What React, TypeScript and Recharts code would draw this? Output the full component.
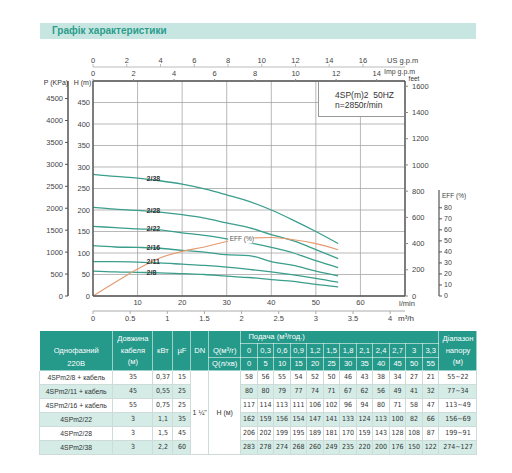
import React from "react";
import { CartesianGrid, Line, LineChart, XAxis, YAxis } from "recharts";

// Flow points of the table / curves
const flowLmin = [0, 5, 10, 15, 20, 25, 30, 35, 40, 45, 50, 55];
const flowM3hLabels = ["0", "0,3", "0,6", "0,9", "1,2", "1,5", "1,8", "2,1", "2,4", "2,7", "3", "3,3"];

// Table rows
const models = [
  "4SPm2/8 + кабель",
  "4SPm2/11 + кабель",
  "4SPm2/16 + кабель",
  "4SPm2/22",
  "4SPm2/28",
  "4SPm2/38",
];
const curveNames = ["2/8", "2/11", "2/16", "2/22", "2/28", "2/38"];
const cableLength = ["35", "45", "55", "3", "3", "3"];
const powerKw = ["0,37", "0,55", "0,75", "1,1", "1,5", "2,2"];
const capacitorUf = ["15", "25", "25", "35", "45", "60"];
const headRange = ["55~22", "77~34", "113~49", "156~69", "199~91", "274~127"];

// Head H (m) at each flow point
const head2_8 = [58, 56, 55, 54, 52, 50, 46, 43, 38, 34, 27, 21];
const head2_11 = [80, 80, 79, 77, 74, 71, 67, 62, 56, 49, 41, 32];
const head2_16 = [117, 114, 113, 111, 106, 102, 96, 94, 80, 71, 58, 47];
const head2_22 = [162, 159, 156, 154, 147, 141, 133, 124, 113, 100, 82, 66];
const head2_28 = [206, 202, 199, 195, 189, 181, 170, 159, 143, 128, 108, 87];
const head2_38 = [283, 278, 274, 268, 260, 249, 235, 220, 200, 176, 150, 122];
const headTable = [head2_8, head2_11, head2_16, head2_22, head2_28, head2_38];

// Efficiency (%)
const efficiency = [0, 12.5, 24.5, 34.5, 40.5, 44.5, 49.5, 52.5, 53, 51, 47.5, 42];

// Axis ticks
const hTicks = [0, 50, 100, 150, 200, 250, 300, 350, 400, 450];
const pTicks = [0, 500, 1000, 1500, 2000, 2500, 3000, 3500, 4000, 4500];
const feetTicks = [0, 200, 400, 600, 800, 1000, 1200, 1400, 1600];
const effTicks = [0, 10, 20, 30, 40, 50, 60, 70, 80];
const lminTicks = [10, 20, 30, 40, 50, 60];
const m3hTicks = [0, 0.5, 1, 1.5, 2, 2.5, 3, 3.5, 4];
const usGpmTicks = [0, 2, 4, 6, 8, 10, 12, 14, 16];
const impGpmTicks = [0, 2, 4, 6, 8, 10, 12, 14];

// Scale ranges (the secondary axes are unit conversions of H and Q)
const H_MAX = 500;
const Q_MAX = 70;
const P_MAX = H_MAX * 9.8;
const FEET_MAX = H_MAX * 3.2808;
const US_GAL = 3.7854;
const IMP_GAL = 4.54609;
const US_MAX = Q_MAX / US_GAL;
const IMP_MAX = Q_MAX / IMP_GAL;
const M3H_MAX = Q_MAX * 0.06;
const EFF_MAX = 195;

const TEAL = "#3a9e8c";
const ORANGE = "#e59a70";
const FONT = "'Liberation Sans', Arial, sans-serif";
const NARROW = "'Liberation Sans Narrow', 'DejaVu Sans Condensed', 'Liberation Sans', Arial, sans-serif";
const HEADER_BG = "#25998a";
const ROW_BG = "#d4ebe6";

const tickStyle = { fontSize: 7.5, fill: "#444" };

const chartData = flowLmin.map((q, i) => {
  const row: Record<string, number> = {
    q,
    qM3h: q * 0.06,
    qUs: q / US_GAL,
    qImp: q / IMP_GAL,
    eff: efficiency[i],
  };
  curveNames.forEach((name, k) => {
    row[name] = headTable[k][i];
  });
  return row;
});

function curveLabelDot(name: string) {
  return (props: any) => {
    const { cx, cy, index } = props;
    if (index !== 2) return <g key={`${name}-${index}`} />;
    return (
      <text
        key={`${name}-${index}`}
        x={cx + 9}
        y={cy}
        dy="0.35em"
        fontSize={7}
        fontWeight="bold"
        fill="#333"
      >
        {name}
      </text>
    );
  };
}

function effLabelDot(props: any) {
  const { cx, cy, index } = props;
  if (index !== 6) return <g key={`eff-${index}`} />;
  return (
    <g key={`eff-${index}`}>
      <rect x={cx + 1.5} y={cy - 7} width={25} height={9} fill="#fff" />
      <text x={cx + 3} y={cy - 2.5} dy="0.35em" fontSize={6.5} fill="#555">
        EFF (%)
      </text>
    </g>
  );
}

function EffTick(props: any) {
  const { x, y, payload } = props;
  return (
    <g>
      {payload.value === 0 && (
        <g>
          <line x1={x - 5} x2={x - 5} y1={y} y2={y - 106} stroke="#555" strokeWidth={1.2} />
          <text x={x - 2} y={y - 100.5} dy="0.35em" fontSize={6.5} fill="#444">
            EFF (%)
          </text>
        </g>
      )}
      <text x={x} y={y} dy="0.35em" fontSize={7} fill="#444">
        {payload.value}
      </text>
    </g>
  );
}

const colWidths = [73.4, 40, 20, 18, 17.6, 32.4, ...flowLmin.map(() => 16.5), 38];

const hdr: React.CSSProperties = {
  background: HEADER_BG,
  color: "#fff",
  fontSize: 7.6,
  textAlign: "center",
  padding: 0,
  lineHeight: "11.5px",
  border: "1px solid rgba(255,255,255,0.55)",
};
const cell: React.CSSProperties = {
  fontSize: 7,
  color: "#333",
  textAlign: "center",
  padding: 0,
  height: 13,
  lineHeight: "13px",
  border: "1px solid #cddcd9",
  fontFamily: NARROW,
};

function SpecTable() {
  return (
    <table
      style={{
        position: "absolute",
        left: 39,
        top: 330,
        width: 437.4,
        borderCollapse: "collapse",
        tableLayout: "fixed",
        fontFamily: FONT,
      }}
    >
      <colgroup>
        {colWidths.map((w, i) => (
          <col key={i} style={{ width: w }} />
        ))}
      </colgroup>
      <tbody>
        <tr style={{ height: 13 }}>
          <td rowSpan={2} style={{ ...hdr, verticalAlign: "bottom", borderBottom: "none", paddingBottom: 1 }}>
            Однофазний
          </td>
          <td rowSpan={3} style={hdr}>
            Довжина
            <br />
            кабеля
            <br />
            (м)
          </td>
          <td rowSpan={3} style={hdr}>кВт</td>
          <td rowSpan={3} style={hdr}>µF</td>
          <td rowSpan={3} style={hdr}>DN</td>
          <td rowSpan={2} style={{ ...hdr, verticalAlign: "bottom", paddingBottom: 1 }}>Q(м³/г)</td>
          <td colSpan={12} style={{ ...hdr, textAlign: "left", paddingLeft: 7 }}>
            Подача (м³/год.)
          </td>
          <td rowSpan={3} style={hdr}>
            Діапазон
            <br />
            напору
            <br />
            (м)
          </td>
        </tr>
        <tr style={{ height: 14 }}>
          {flowM3hLabels.map((v, i) => (
            <td key={i} style={hdr}>{v}</td>
          ))}
        </tr>
        <tr style={{ height: 13 }}>
          <td style={{ ...hdr, borderTop: "none" }}>220В</td>
          <td style={hdr}>Q(л/хв)</td>
          {flowLmin.map((v, i) => (
            <td key={i} style={hdr}>{v}</td>
          ))}
        </tr>
        {models.map((m, r) => {
          const bg = r % 2 === 1 ? ROW_BG : "#fff";
          const c = { ...cell, background: bg };
          return (
            <tr key={m}>
              <td style={{ ...c, fontFamily: FONT, fontSize: 6.8 }}>{m}</td>
              <td style={c}>{cableLength[r]}</td>
              <td style={c}>{powerKw[r]}</td>
              <td style={c}>{capacitorUf[r]}</td>
              {r === 0 && (
                <td rowSpan={6} style={{ ...cell, background: "#fff", fontFamily: FONT }}>
                  1 ¼"
                </td>
              )}
              {r === 0 && (
                <td rowSpan={6} style={{ ...cell, background: "#fff", fontFamily: FONT }}>
                  H (м)
                </td>
              )}
              {headTable[r].map((v, i) => (
                <td key={i} style={c}>{v}</td>
              ))}
              <td style={c}>{headRange[r]}</td>
            </tr>
          );
        })}
      </tbody>
    </table>
  );
}

export default function App() {
  return (
    <div
      style={{
        position: "absolute",
        left: 0,
        top: 0,
        width: 512,
        height: 473,
        background: "#fff",
        fontFamily: FONT,
        overflow: "hidden",
      }}
    >
      <LineChart
        width={512}
        height={335}
        data={chartData}
        margin={{ top: 53, right: 73, bottom: 2, left: 38 }}
        style={{ fontFamily: FONT }}
      >
        <CartesianGrid xAxisId="lmin" yAxisId="h" stroke="#a6a6a6" strokeWidth={0.8} />
        <XAxis
          xAxisId="lmin"
          dataKey="q"
          type="number"
          orientation="bottom"
          domain={[0, Q_MAX]}
          ticks={lminTicks}
          interval={0}
          height={15}
          tickSize={0}
          tickMargin={4}
          tickLine={false}
          axisLine={{ stroke: "#555", strokeWidth: 1.4 }}
          tick={tickStyle}
          label={{ value: "l/min", position: "right", offset: -6, fontSize: 7.5, fill: "#444" }}
        />
        <XAxis
          xAxisId="m3h"
          dataKey="qM3h"
          type="number"
          orientation="bottom"
          domain={[0, M3H_MAX]}
          allowDataOverflow
          ticks={m3hTicks}
          interval={0}
          height={22}
          tickSize={3}
          tickMargin={2}
          axisLine={{ stroke: "#aaa" }}
          tickLine={{ stroke: "#aaa" }}
          tick={tickStyle}
          label={{ value: "m³/h", position: "right", offset: -7, dy: -4, fontSize: 8, fill: "#333" }}
        />
        <XAxis
          xAxisId="imp"
          dataKey="qImp"
          type="number"
          orientation="top"
          domain={[0, IMP_MAX]}
          allowDataOverflow
          ticks={impGpmTicks}
          interval={0}
          height={14}
          tickSize={2}
          tickMargin={3}
          axisLine={{ stroke: "#555", strokeWidth: 1.4 }}
          tickLine={{ stroke: "#888" }}
          tick={tickStyle}
          label={{ value: "Imp g.p.m", position: "right", offset: -21, dy: -2, fontSize: 7, fill: "#444" }}
        />
        <XAxis
          xAxisId="us"
          dataKey="qUs"
          type="number"
          orientation="top"
          domain={[0, US_MAX]}
          allowDataOverflow
          ticks={usGpmTicks}
          interval={0}
          height={14}
          tickSize={3}
          tickMargin={1}
          axisLine={{ stroke: "#bbb" }}
          tickLine={{ stroke: "#bbb" }}
          tick={tickStyle}
          label={{ value: "US g.p.m", position: "right", offset: -18, fontSize: 7.5, fill: "#444" }}
        />
        <YAxis
          yAxisId="h"
          type="number"
          orientation="left"
          domain={[0, H_MAX]}
          ticks={hTicks}
          interval={0}
          width={25}
          tickSize={0}
          tickMargin={3}
          tickLine={false}
          axisLine={{ stroke: "#555", strokeWidth: 1.4 }}
          tick={tickStyle}
          label={{ value: "H (m)", position: "top", offset: -4, dx: 2, fontSize: 7, fill: "#333" }}
        />
        <YAxis
          yAxisId="p"
          type="number"
          orientation="left"
          domain={[0, P_MAX]}
          allowDataOverflow
          ticks={pTicks}
          interval={0}
          width={30}
          tickSize={3}
          tickMargin={2}
          axisLine={{ stroke: "#555", strokeWidth: 1.5 }}
          tickLine={{ stroke: "#555" }}
          tick={tickStyle}
          label={{ value: "P (KPa)", position: "top", offset: -4, dx: 3, fontSize: 7, fill: "#333" }}
        />
        <YAxis
          yAxisId="feet"
          type="number"
          orientation="right"
          domain={[0, FEET_MAX]}
          allowDataOverflow
          ticks={feetTicks}
          interval={0}
          width={34}
          tickSize={3}
          tickMargin={4}
          axisLine={{ stroke: "#555", strokeWidth: 1.4 }}
          tickLine={{ stroke: "#888" }}
          tick={tickStyle}
          label={{ value: "feet", position: "top", offset: 0, dx: -8, fontSize: 6.5, fill: "#333" }}
        />
        <YAxis
          yAxisId="eff"
          type="number"
          orientation="right"
          domain={[0, EFF_MAX]}
          allowDataOverflow
          width={0}
          hide
        />
        {curveNames.map((name) => (
          <Line
            key={name}
            xAxisId="lmin"
            yAxisId="h"
            type="monotone"
            dataKey={name}
            stroke={TEAL}
            strokeWidth={1.3}
            dot={curveLabelDot(name)}
            activeDot={false}
            isAnimationActive={false}
          />
        ))}
        <Line
          xAxisId="lmin"
          yAxisId="eff"
          type="monotone"
          dataKey="eff"
          stroke={ORANGE}
          strokeWidth={1.1}
          dot={effLabelDot}
          activeDot={false}
          isAnimationActive={false}
        />
      </LineChart>

      {/* separate EFF (%) scale to the right of the feet scale */}
      <div style={{ position: "absolute", left: 0, top: 0, pointerEvents: "none" }}>
        <LineChart
          width={512}
          height={335}
          data={chartData}
          margin={{ top: 81, right: 33, bottom: 39, left: 0 }}
          style={{ fontFamily: FONT }}
        >
          <XAxis dataKey="q" type="number" domain={[0, Q_MAX]} hide />
          <YAxis
            type="number"
            orientation="right"
            domain={[0, EFF_MAX]}
            allowDataOverflow
            ticks={effTicks}
            interval={0}
            width={40}
            tickSize={3}
            tickMargin={2}
            axisLine={false}
            tickLine={{ stroke: "#555" }}
            tick={<EffTick />}
          />
        </LineChart>
      </div>

      {/* title band */}
      <div
        style={{
          position: "absolute",
          left: 40,
          top: 23,
          width: 436,
          height: 16,
          background: "#c8e6e1",
        }}
      >
        <span
          style={{
            position: "absolute",
            left: 12,
            top: 2,
            fontSize: 10,
            fontWeight: "bold",
            color: "#2a9d8c",
            lineHeight: "12px",
          }}
        >
          Графік характеристики
        </span>
      </div>

      {/* model box in the plot corner */}
      <div
        style={{
          position: "absolute",
          left: 318,
          top: 82,
          width: 86,
          height: 35,
          background: "#fff",
          borderLeft: "1px solid #999",
          borderBottom: "1px solid #999",
          boxSizing: "border-box",
          fontSize: 8.5,
          color: "#333",
          lineHeight: "10.3px",
          paddingLeft: 16,
          paddingTop: 8,
        }}
      >
        <div style={{ whiteSpace: "pre" }}>4SP(m)2  50HZ</div>
        <div>n=2850r/min</div>
      </div>

      <SpecTable />
    </div>
  );
}
